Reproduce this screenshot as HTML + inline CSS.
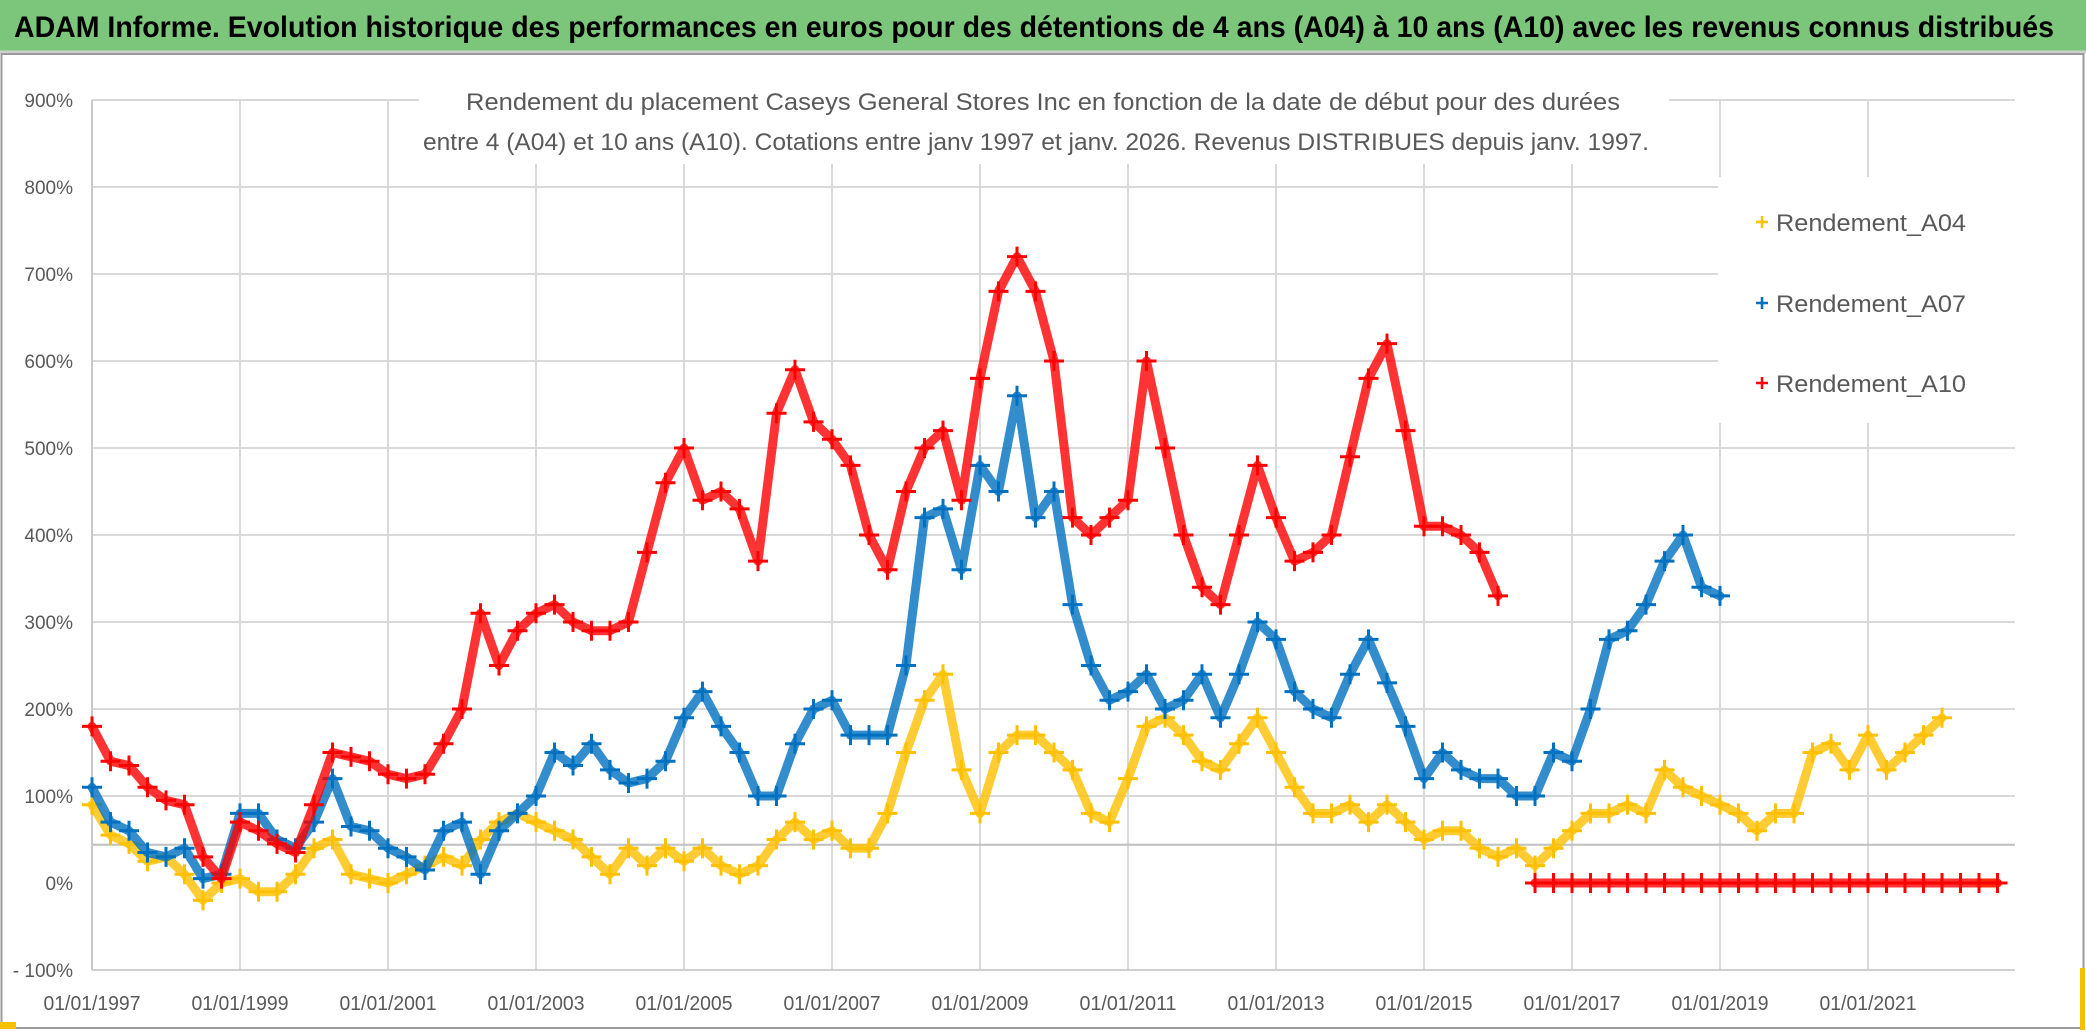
<!DOCTYPE html>
<html><head><meta charset="utf-8"><style>
html,body{margin:0;padding:0;background:#fff;}
svg{display:block;font-family:"Liberation Sans",sans-serif;}
</style></head><body>
<svg id="chart" width="2086" height="1032" viewBox="0 0 2086 1032" xmlns="http://www.w3.org/2000/svg">
<rect x="0" y="0" width="2086" height="1032" fill="#fff"/>
<rect x="0" y="0" width="2086" height="51" fill="#7cc67b"/>
<line x1="0" y1="52" x2="2086" y2="52" stroke="#cfcfcf" stroke-width="3"/>
<text x="14" y="37" font-size="30" font-weight="bold" fill="#000" textLength="2040" lengthAdjust="spacingAndGlyphs">ADAM Informe. Evolution historique des performances en euros pour des détentions de 4 ans (A04) à 10 ans (A10) avec les revenus connus distribués</text>
<rect x="1.5" y="54" width="2082" height="974" fill="none" stroke="#9a9a9a" stroke-width="2"/>
<rect x="0" y="1022" width="16" height="7" fill="#f5c000"/>
<rect x="2080" y="968" width="5" height="62" fill="#f5c000"/>
<g id="grid"></g>
<g id="axes"></g>
<g id="series"></g>
<rect x="419" y="68" width="1250" height="96" fill="#fff"/>
<text x="1043" y="110" font-size="24" fill="#595959" text-anchor="middle" textLength="1154" lengthAdjust="spacingAndGlyphs">Rendement du placement Caseys General Stores Inc en fonction de la date de début pour des durées</text>
<text x="1036" y="150" font-size="24" fill="#595959" text-anchor="middle" textLength="1226" lengthAdjust="spacingAndGlyphs">entre 4 (A04) et 10 ans (A10). Cotations entre janv 1997 et janv. 2026. Revenus DISTRIBUES depuis janv. 1997.</text>
<g id="legend">
<rect x="1718" y="177" width="297" height="246" fill="#fff"/>
</g>
</svg>
<script>
const startYear = 1997;
const stepYear = 0.25;
const yTicks = [900, 800, 700, 600, 500, 400, 300, 200, 100, 0, -100];
const yTickLabels = ["900%","800%","700%","600%","500%","400%","300%","200%","100%","0%","- 100%"];
const xTickYears = [1997,1999,2001,2003,2005,2007,2009,2011,2013,2015,2017,2019,2021];
const xTickLabels = ["01/01/1997","01/01/1999","01/01/2001","01/01/2003","01/01/2005","01/01/2007","01/01/2009","01/01/2011","01/01/2013","01/01/2015","01/01/2017","01/01/2019","01/01/2021"];
const refLineValue = 44;
const seriesNames = ["Rendement_A04","Rendement_A07","Rendement_A10"];
const a04 = [90,55,45,25,30,10,-20,0,5,-10,-10,10,40,50,10,5,0,10,20,30,20,50,70,80,70,60,50,30,10,40,20,40,25,40,20,10,20,50,70,50,60,40,40,80,150,210,240,130,80,150,170,170,150,130,80,70,120,180,190,170,140,130,160,190,150,110,80,80,90,70,90,70,50,60,60,40,30,40,20,40,60,80,80,90,80,130,110,100,90,80,60,80,80,150,160,130,170,130,150,170,190,null,0,0,0,0];
const a07 = [110,70,60,35,30,40,5,10,80,80,50,40,70,120,65,60,40,30,15,60,70,10,60,80,100,150,135,160,130,115,120,140,190,220,180,150,100,100,160,200,210,170,170,170,250,420,430,360,480,450,560,420,450,320,250,210,220,240,200,210,240,190,240,300,280,220,200,190,240,280,230,180,120,150,130,120,120,100,100,150,140,200,280,290,320,370,400,340,330];
const a10 = [180,140,135,110,95,90,30,5,70,60,45,35,90,150,145,140,125,120,125,160,200,310,250,290,310,320,300,290,290,300,380,460,500,440,450,430,370,540,590,530,510,480,400,360,450,500,520,440,580,680,720,680,600,420,400,420,440,600,500,400,340,320,400,480,420,370,380,400,490,580,620,520,410,410,400,380,330,null,0,0,0,0,0,0,0,0,0,0,0,0,0,0,0,0,0,0,0,0,0,0,0,0,0,0,0,0,0];
const seriesData = [a04, a07, a10];
const seriesColors = ["#ffc000","#0070c0","#ff0000"];

const NS = "http://www.w3.org/2000/svg";
const plotL = 92, plotR = 2015, yearPx = 74;
const y0 = 883, unitPx = 0.87;
function xScale(year){ return plotL + (year - startYear) * yearPx; }
function yScale(v){ return y0 - v * unitPx; }
function mk(tag, attrs, parent){ const e = document.createElementNS(NS, tag); for (const k in attrs) e.setAttribute(k, attrs[k]); parent.appendChild(e); return e; }

const grid = document.getElementById('grid');
const axes = document.getElementById('axes');
yTicks.forEach((v, i) => {
  if (v !== 0 && v !== -100) {
    const gl = mk('line', {x1: plotL, x2: plotR, y1: yScale(v), y2: yScale(v), stroke: '#d9d9d9', 'stroke-width': 2}, grid);
    
    
  }
  const t = mk('text', {x: 73, y: yScale(v) + 7, 'font-size': 19, fill: '#595959', 'text-anchor': 'end'}, axes);
  t.textContent = yTickLabels[i];
  
  
});
xTickYears.forEach((yr, i) => {
  const x = xScale(yr);
  const gl = mk('line', {x1: x, x2: x, y1: yScale(900), y2: yScale(-100), stroke: '#d9d9d9', 'stroke-width': 2}, grid);
  
  
  const t = mk('text', {x: x, y: 1010, 'font-size': 20, fill: '#595959', 'text-anchor': 'middle', textLength: 97, lengthAdjust: 'spacingAndGlyphs'}, axes);
  t.textContent = xTickLabels[i];
  
  
});
const ref = mk('line', {x1: plotL, x2: plotR, y1: yScale(refLineValue), y2: yScale(refLineValue), stroke: '#bfbfbf', 'stroke-width': 2}, grid);


const xAxis = mk('line', {x1: plotL, x2: plotR, y1: yScale(-100), y2: yScale(-100), stroke: '#d0d0d0', 'stroke-width': 2}, axes);


const yAxis = mk('line', {x1: plotL, x2: plotL, y1: yScale(900), y2: yScale(-100), stroke: '#c8c8c8', 'stroke-width': 2}, axes);



function plus(parent, x, y, s, color, w){
  return mk('path', {d: `M${x-s},${y}H${x+s}M${x},${y-s}V${y+s}`, stroke: color, 'stroke-width': w, fill: 'none'}, parent);
}
const seriesG = document.getElementById('series');
seriesData.forEach((vals, si) => {
  const g = mk('g', {}, seriesG);
  
  
  const segs = [];
  let cur = [];
  vals.forEach((v, i) => {
    const yr = startYear + i * stepYear;
    if (v === null || xScale(yr) > plotR) { if (cur.length) segs.push(cur); cur = []; return; }
    cur.push([xScale(yr), yScale(v)]);
  });
  if (cur.length) segs.push(cur);
  segs.forEach(pts => {
    const pl = mk('polyline', {points: pts.map(p => p.join(',')).join(' '), fill: 'none', stroke: seriesColors[si], 'stroke-width': 9, 'stroke-linejoin': 'round', 'stroke-linecap': 'round', opacity: 0.8}, g);
    
    
    pts.forEach(p => {
      const m = plus(g, p[0], p[1], 10, seriesColors[si], 3);
      
      
    });
  });
});

const legend = document.getElementById('legend');
const legendY = [222, 303, 383];
seriesNames.forEach((n, i) => {
  const m = plus(legend, 1762, legendY[i], 6, seriesColors[i], 2.5);
  
  
  const t = mk('text', {x: 1776, y: legendY[i] + 9, 'font-size': 24, fill: '#595959', textLength: 190, lengthAdjust: 'spacingAndGlyphs'}, legend);
  t.textContent = n;
  
  
});
</script>
</body></html>
